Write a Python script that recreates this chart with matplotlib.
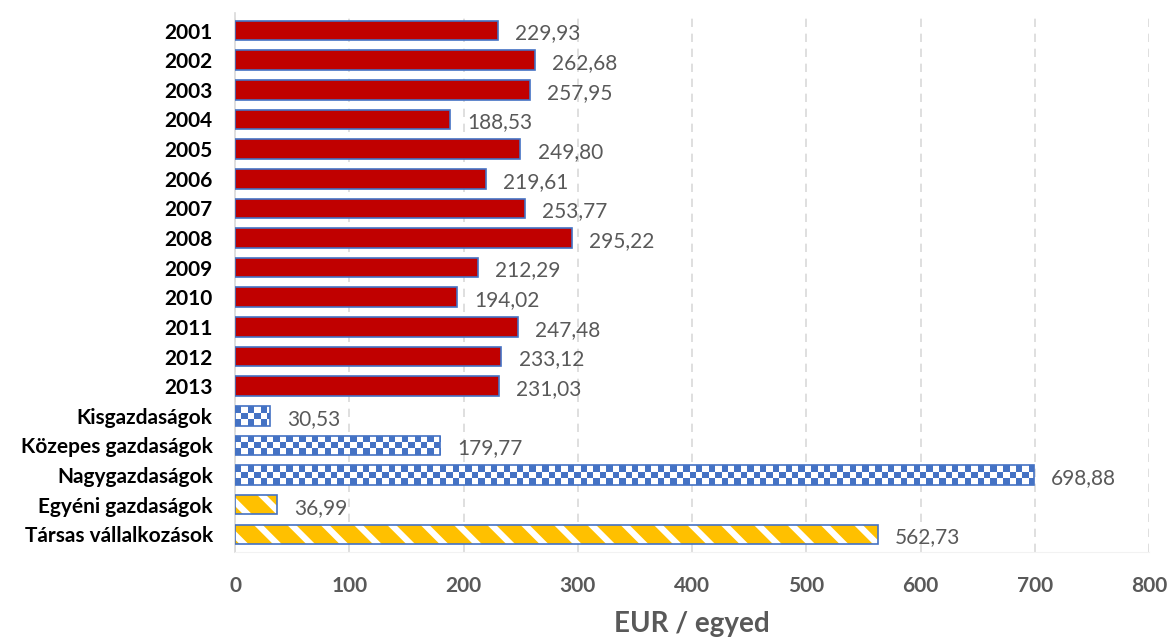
import numpy as np
import matplotlib
matplotlib.use("Agg")
import matplotlib.pyplot as plt
from matplotlib.colors import ListedColormap

plt.rcParams['font.family'] = ['Lato', 'DejaVu Sans']
plt.rcParams['hatch.linewidth'] = 4.5

categories = ['2001', '2002', '2003', '2004', '2005', '2006', '2007', '2008', '2009',
              '2010', '2011', '2012', '2013', 'Kisgazdaságok', 'Közepes gazdaságok',
              'Nagygazdaságok', 'Egyéni gazdaságok', 'Társas vállalkozások']
values = [229.93, 262.68, 257.95, 188.53, 249.80, 219.61, 253.77, 295.22, 212.29,
          194.02, 247.48, 233.12, 231.03, 30.53, 179.77, 698.88, 36.99, 562.73]
styles = ['solid'] * 13 + ['checker'] * 3 + ['stripe'] * 2

red = '#C00000'
blue = '#4472C4'
yellow = '#FFC000'
grey = '#595959'

fig = plt.figure(figsize=(11.75, 6.39), dpi=100)
ax = fig.add_axes([0.2, 0.136, 0.778, 0.844])

y = np.arange(len(categories))
h = 0.66
cell = 5.6
for yi, v, s in zip(y, values, styles):
    if s == 'solid':
        ax.barh(yi, v, height=h, color=red, edgecolor=blue, linewidth=1.2, zorder=3)
    elif s == 'stripe':
        ax.barh(yi, v, height=h, color=yellow, edgecolor='white', hatch='\\',
                linewidth=0, zorder=3)
        ax.barh(yi, v, height=h, fill=False, edgecolor=blue, linewidth=1.2, zorder=4)
    else:
        # checkerboard fill clipped to the bar
        bar = ax.barh(yi, v, height=h, color='white', linewidth=0, zorder=3)[0]
        ncols = max(2, int(np.ceil(v / cell)))
        nrows = 3
        board = np.indices((nrows, ncols)).sum(axis=0) % 2
        img = ax.imshow(board, cmap=ListedColormap([blue, 'white']),
                        extent=[0, ncols * cell, yi + h / 2, yi - h / 2],
                        interpolation='nearest', aspect='auto', zorder=3.5)
        img.set_clip_path(bar)
        ax.barh(yi, v, height=h, fill=False, edgecolor=blue, linewidth=1.2, zorder=4)
    ax.text(v + 15, yi + 0.1, f'{v:.2f}'.replace('.', ','), va='center', ha='left',
            fontsize=15, color=grey)

ax.set_xlim(0, 800)
ax.set_ylim(len(categories) - 0.4, -0.6)
ax.set_yticks(y)
ax.set_yticklabels(categories, fontsize=15, fontweight='bold', color='black')
ax.set_xticks(range(0, 801, 100))
ax.set_xticklabels([str(t) for t in range(0, 801, 100)], fontsize=15,
                   fontweight='bold', color=grey)
ax.tick_params(axis='both', length=0)
ax.tick_params(axis='x', pad=17)
ax.tick_params(axis='y', pad=16)
ax.set_xlabel('EUR / egyed', fontsize=20, fontweight='bold', color=grey, labelpad=11)

ax.grid(axis='x', color='#D9D9D9', linestyle=(0, (5, 4)), linewidth=1.2, zorder=0)
for side in ['top', 'right']:
    ax.spines[side].set_visible(False)
ax.spines['left'].set_color('#D9D9D9')
ax.spines['left'].set_linewidth(1.2)
ax.spines['bottom'].set_color('#F2F2F2')

fig.savefig('out.png', dpi=100)
